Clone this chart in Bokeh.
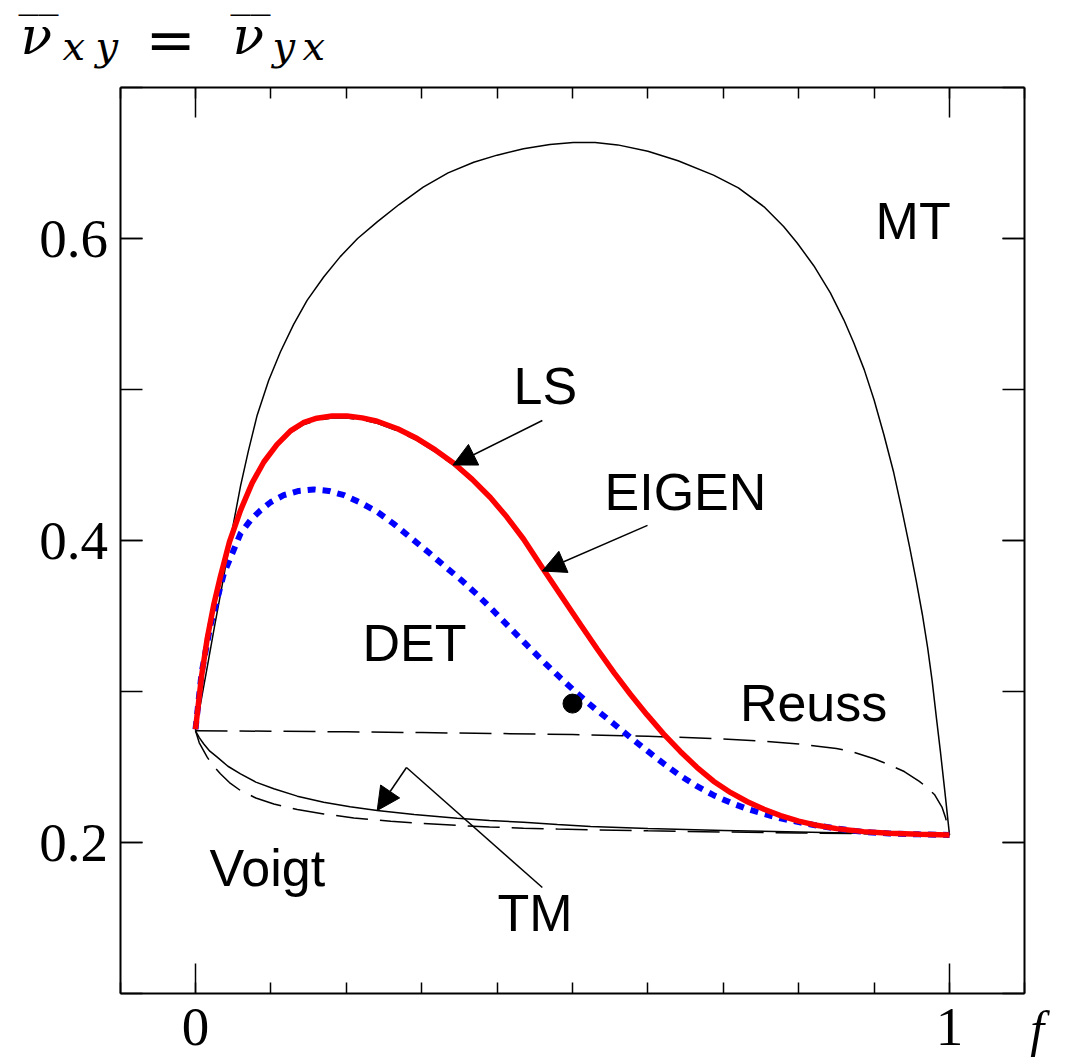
from bokeh.plotting import figure
from bokeh.models import (LinearAxis, FixedTicker, Label, Arrow, NormalHead,
                          CustomJSTickFormatter, Range1d)
from bokeh.embed import file_html
from bokeh.resources import INLINE

# ---------------- data ----------------
x_major_ticks = [0, 1]
x_minor_ticks = [-0.1, 0.0, 0.1, 0.2, 0.3, 0.4, 0.5, 0.6, 0.7, 0.8, 0.9, 1.0, 1.1]
y_major_ticks = [0.2, 0.4, 0.6]
y_minor_ticks = [0.1, 0.2, 0.3, 0.4, 0.5, 0.6, 0.7]

mt_x = [0, 0.008, 0.0155, 0.025, 0.0354, 0.047, 0.0597, 0.07, 0.0818, 0.097, 0.1127,
        0.13, 0.148, 0.17, 0.192, 0.215, 0.241, 0.27, 0.302, 0.335, 0.369, 0.40, 0.435,
        0.47, 0.501, 0.53, 0.56, 0.60, 0.64, 0.687, 0.72, 0.754, 0.78, 0.798, 0.82,
        0.842, 0.86, 0.873, 0.887, 0.900, 0.913, 0.926, 0.937, 0.947, 0.956, 0.964,
        0.971, 0.977, 0.983, 0.988, 0.994, 1.0]
mt_y = [0.274, 0.2955, 0.316, 0.3425, 0.3705, 0.4025, 0.436, 0.459, 0.483, 0.506, 0.525,
        0.543, 0.559, 0.5745, 0.588, 0.600, 0.611, 0.6225, 0.634, 0.6435, 0.6505, 0.6552,
        0.6595, 0.6622, 0.6635, 0.6635, 0.6620, 0.6578, 0.6515, 0.642, 0.6335, 0.621, 0.608,
        0.597, 0.582, 0.564, 0.546, 0.531, 0.513, 0.493, 0.470, 0.445, 0.420, 0.396,
        0.373, 0.351, 0.329, 0.307, 0.281, 0.260, 0.233, 0.205]

ls_x = [0, 0.008, 0.0155, 0.024, 0.033, 0.045, 0.0597, 0.075, 0.0906, 0.108, 0.126,
        0.143, 0.161, 0.181, 0.201, 0.221, 0.241, 0.268, 0.294, 0.318, 0.343, 0.367,
        0.391, 0.413, 0.435, 0.46, 0.48, 0.511, 0.533, 0.555, 0.577, 0.599, 0.621, 0.643,
        0.665, 0.687, 0.71, 0.732, 0.754, 0.776, 0.80, 0.82, 0.85, 0.886, 0.92, 0.96, 1.0]
ls_y = [0.275, 0.31, 0.335, 0.357, 0.376, 0.399, 0.420, 0.438, 0.452, 0.4635, 0.4726,
        0.478, 0.481, 0.4825, 0.4825, 0.4812, 0.479, 0.474, 0.4675, 0.460, 0.451, 0.4405,
        0.4285, 0.4155, 0.401, 0.382, 0.367, 0.344, 0.328, 0.3125, 0.298, 0.2845, 0.2718,
        0.2603, 0.2498, 0.2406, 0.2330, 0.2270, 0.2220, 0.2178, 0.2142, 0.2118, 0.2092,
        0.2072, 0.2061, 0.2054, 0.205]

eigen_x = ls_x
eigen_y = [0.275, 0.309, 0.334, 0.356, 0.375, 0.398, 0.4188, 0.4366, 0.4506, 0.4621, 0.4712,
           0.4766, 0.4796, 0.4811, 0.4811, 0.4798, 0.4776, 0.4726, 0.4661, 0.4586, 0.4496,
           0.4391, 0.4271, 0.4141, 0.3996, 0.3806, 0.3656, 0.3426, 0.3266, 0.3111, 0.2966,
           0.2833, 0.2707, 0.2593, 0.2489, 0.2398, 0.2323, 0.2264, 0.2215, 0.2174, 0.2139,
           0.2115, 0.2090, 0.2071, 0.2060, 0.2054, 0.205]

det_x = [0, 0.008, 0.0199, 0.0376, 0.0597, 0.073, 0.0862, 0.10, 0.117, 0.137, 0.157,
         0.177, 0.197, 0.219, 0.241, 0.263, 0.285, 0.307, 0.329, 0.352, 0.374, 0.396,
         0.418, 0.44, 0.462, 0.484, 0.506, 0.53, 0.555, 0.577, 0.599, 0.621, 0.643, 0.665,
         0.687, 0.71, 0.732, 0.754, 0.776, 0.80, 0.82, 0.85, 0.886, 0.92, 0.96, 1.0]
det_y = [0.275, 0.312, 0.344, 0.378, 0.4046, 0.4135, 0.420, 0.4255, 0.430, 0.4328, 0.4338,
         0.4328, 0.430, 0.425, 0.419, 0.411, 0.402, 0.393, 0.3836, 0.374, 0.364, 0.353,
         0.3417, 0.3305, 0.3195, 0.309, 0.2988, 0.2885, 0.2785, 0.2695, 0.2608, 0.2522,
         0.2442, 0.2373, 0.2313, 0.2263, 0.2222, 0.2189, 0.216, 0.2135, 0.2116, 0.2092,
         0.2070, 0.2060, 0.2054, 0.205]

reuss_x = [0, 0.1, 0.2, 0.3, 0.4, 0.5, 0.6, 0.7, 0.75, 0.8, 0.85, 0.87, 0.9, 0.92,
           0.94, 0.96, 0.97, 0.98, 0.99, 0.995, 1.0]
reuss_y = [0.274, 0.2737, 0.2733, 0.2728, 0.2722, 0.2715, 0.2704, 0.2686, 0.2672, 0.2652,
           0.2622, 0.2603, 0.2555, 0.2515, 0.2470, 0.2405, 0.2365, 0.2318, 0.2235, 0.216,
           0.205]

tm_x = [0, 0.005, 0.011, 0.019, 0.0288, 0.043, 0.0597, 0.08, 0.1039, 0.135, 0.170,
        0.205, 0.241, 0.29, 0.347, 0.39, 0.435, 0.48, 0.524, 0.6, 0.7, 0.8, 0.9, 1.0]
tm_y = [0.274, 0.2695, 0.2652, 0.2605, 0.2565, 0.2505, 0.2455, 0.2400, 0.2356, 0.2307,
        0.2267, 0.2237, 0.2212, 0.2185, 0.2161, 0.2146, 0.2134, 0.2119, 0.2106, 0.2092,
        0.2080, 0.2070, 0.2060, 0.205]

voigt_x = [0, 0.005, 0.0155, 0.024, 0.033, 0.045, 0.0597, 0.08, 0.1039, 0.135, 0.170,
           0.21, 0.259, 0.30, 0.347, 0.39, 0.435, 0.48, 0.524, 0.6, 0.7, 0.8, 0.9, 1.0]
voigt_y = [0.274, 0.266, 0.2565, 0.2505, 0.2455, 0.2397, 0.2344, 0.2295, 0.2255, 0.2218,
           0.2189, 0.2163, 0.2141, 0.2126, 0.2113, 0.2103, 0.2095, 0.2089, 0.2084, 0.2077,
           0.2070, 0.2063, 0.2057, 0.205]

point_x = [0.5]
point_y = [0.292]

# ---------------- figure ----------------
# the frame covers the whole canvas; the visible box is drawn by four axes
# placed at fixed locations, so texts outside the box are not clipped
p = figure(width=1065, height=1064,
           x_range=Range1d(-0.25862, 1.15385), y_range=Range1d(0.05298, 0.75762),
           output_backend="svg", toolbar_location=None,
           x_axis_location=None, y_axis_location=None, min_border=0)
try:
    p.xgrid.visible = False
    p.ygrid.visible = False
except Exception:
    pass
p.outline_line_color = None
p.background_fill_color = "white"
p.border_fill_color = "white"

TICK_FONT = "Liberation Serif"
LABEL_FONT = "Liberation Sans"
MATH_FONT = "DejaVu Serif"
blank = CustomJSTickFormatter(code="return ''")

def make_axis(ticks, minor, loc, bounds, major_in, minor_in, labelled, standoff=10):
    ax = LinearAxis(ticker=FixedTicker(ticks=ticks, minor_ticks=minor),
                    fixed_location=loc, bounds=bounds)
    if not labelled:
        ax.formatter = blank
    ax.axis_line_width = 2
    ax.axis_line_color = "black"
    ax.major_tick_in = major_in
    ax.major_tick_out = 0
    ax.minor_tick_in = minor_in
    ax.minor_tick_out = 0
    ax.major_tick_line_width = 1.5
    ax.minor_tick_line_width = 1.5
    ax.major_tick_line_color = "black"
    ax.minor_tick_line_color = "black"
    ax.major_label_text_font = TICK_FONT
    ax.major_label_text_font_size = "55px"
    ax.major_label_text_color = "black"
    ax.major_label_standoff = standoff
    return ax

p.add_layout(make_axis(x_major_ticks, x_minor_ticks, 0.1, (-0.1, 1.1), 30, 11, True, 15), "below")
p.add_layout(make_axis(x_major_ticks, x_minor_ticks, 0.7, (-0.1, 1.1), 30, 11, False), "above")
p.add_layout(make_axis(y_major_ticks, y_minor_ticks, -0.1, (0.1, 0.7), 22, 22, True, 12), "left")
p.add_layout(make_axis(y_major_ticks, y_minor_ticks, 1.1, (0.1, 0.7), 22, 22, False), "right")

# ---------------- curves ----------------
p.line(mt_x, mt_y, line_color="black", line_width=1.5)
p.line(reuss_x, reuss_y, line_color="black", line_width=1.5, line_dash="32 12")
p.line(voigt_x, voigt_y, line_color="black", line_width=1.5, line_dash="32 12")
p.line(tm_x, tm_y, line_color="black", line_width=1.5)
p.line(det_x, det_y, line_color="#0000ff", line_width=6, line_dash="8 7")
p.line(eigen_x, eigen_y, line_color="black", line_width=1.5, line_dash="32 12")
p.line(ls_x, ls_y, line_color="#ff0000", line_width=5.5)
p.scatter(point_x, point_y, size=19, color="black")

# ---------------- annotations ----------------
def head():
    return NormalHead(size=23, fill_color="black", line_color="black", line_width=1)

p.add_layout(Arrow(end=head(), x_start=0.460, y_start=0.4795, x_end=0.3415, y_end=0.450,
                   line_width=1.5, line_color="black"))
p.add_layout(Arrow(end=head(), x_start=0.5995, y_start=0.410, x_end=0.460, y_end=0.3798,
                   line_width=1.5, line_color="black"))
p.add_layout(Arrow(end=None, x_start=0.460, y_start=0.1702, x_end=0.2798, y_end=0.2497,
                   line_width=1.5, line_color="black"))
p.add_layout(Arrow(end=head(), x_start=0.2798, y_start=0.2497, x_end=0.241, y_end=0.2212,
                   line_width=1.5, line_color="black"))

for txt, lx, ly in [("MT", 0.902, 0.6119), ("LS", 0.4218, 0.5023), ("EIGEN", 0.5425, 0.4321),
                    ("DET", 0.2215, 0.3321), ("Reuss", 0.722, 0.2924),
                    ("Voigt", 0.0185, 0.1831), ("TM", 0.4005, 0.1533)]:
    p.add_layout(Label(x=lx, y=ly, text=txt, text_font=LABEL_FONT, text_font_size="52px",
                       text_color="black", text_align="left", text_baseline="alphabetic"))

# y-axis title (nu-bar_xy = nu-bar_yx) and x-axis title f
def math_label(txt, lx, ly, size, style="italic", font=MATH_FONT):
    p.add_layout(Label(x=lx, y=ly, text=txt, text_font=font, text_font_size=size,
                       text_font_style=style, text_color="black", text_align="left",
                       text_baseline="alphabetic"))

math_label("\u203e\u203e", -0.2347, 0.7384, "40px", "normal")   # overline
math_label("\u03bd", -0.2321, 0.7341, "52px")
math_label("x", -0.1764, 0.7278, "40px")
math_label("y", -0.1326, 0.7278, "40px")
math_label("=", -0.0663, 0.7321, "60px", "normal")
math_label("\u203e\u203e", 0.0464, 0.7384, "40px", "normal")    # overline
math_label("\u03bd", 0.0491, 0.7341, "52px")
math_label("y", 0.1021, 0.7278, "40px")
math_label("x", 0.1419, 0.7278, "40px")
math_label("f", 1.107, 0.0768, "50px", "italic", TICK_FONT)

open("out.html", "w").write(file_html(p, INLINE))
